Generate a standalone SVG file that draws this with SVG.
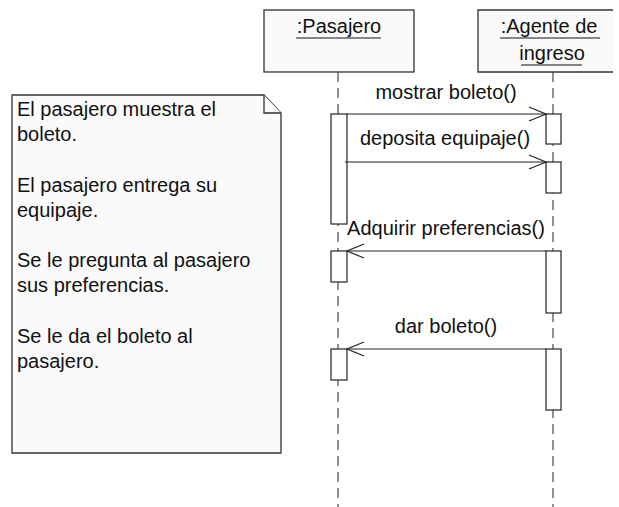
<svg xmlns="http://www.w3.org/2000/svg" width="619" height="507" viewBox="0 0 619 507">
<style>
text{font-family:"Liberation Sans",Arial,sans-serif;font-size:20px;fill:#111}
.box{fill:#fafafa;stroke:#333;stroke-width:1.3}
.act{fill:#ffffff;stroke:#333;stroke-width:1.3}
.life{stroke:#555;stroke-width:1.3;stroke-dasharray:10 6;fill:none}
.msg{stroke:#222;stroke-width:1.2;fill:none}
.ul{stroke:#111;stroke-width:1.2}
</style>
<rect width="619" height="507" fill="#ffffff"/>
<g id="lifelines">
<line class="life" x1="338" y1="72" x2="338" y2="507"/>
<line class="life" x1="553" y1="72" x2="553" y2="507"/>
</g>
<g id="pasajero">
<rect class="box" x="264" y="10" width="150" height="62"/>
<text x="339" y="33" text-anchor="middle">:Pasajero</text>
<line class="ul" x1="296" y1="38" x2="381" y2="38"/>
</g>
<g id="agente">
<path class="box" d="M613 10 H478 V72 H613"/>
<text x="549" y="33" text-anchor="middle">:Agente de</text>
<line class="ul" x1="500" y1="38" x2="600" y2="38"/>
<text x="552" y="60" text-anchor="middle">ingreso</text>
<line class="ul" x1="521" y1="65" x2="582" y2="65"/>
</g>
<g id="activations">
<rect class="act" x="331" y="114" width="16" height="110"/>
<rect class="act" x="331" y="251" width="16" height="31"/>
<rect class="act" x="331" y="349" width="16" height="31"/>
<rect class="act" x="546" y="114" width="15" height="30"/>
<rect class="act" x="546" y="162" width="15" height="31"/>
<rect class="act" x="546" y="251" width="15" height="62"/>
<rect class="act" x="546" y="349" width="15" height="61"/>
</g>
<g id="note">
<path class="box" d="M12 95 H264 L281 113 V453 H12 Z"/>
<path class="box" d="M264 95 V113 H281" fill="none"/>
<text x="17" y="116">El pasajero muestra el</text>
<text x="17" y="141.2">boleto.</text>
<text x="17" y="191.6">El pasajero entrega su</text>
<text x="17" y="216.8">equipaje.</text>
<text x="17" y="267.2">Se le pregunta al pasajero</text>
<text x="17" y="292.4">sus preferencias.</text>
<text x="17" y="342.8">Se le da el boleto al</text>
<text x="17" y="368">pasajero.</text>
</g>
<g id="connectors">
<g id="m1">
<line class="msg" x1="347" y1="114" x2="546" y2="114"/>
<path class="msg" d="M529 107 L546 114 L529 121"/>
<text x="446" y="99" text-anchor="middle">mostrar boleto()</text>
</g>
<g id="m2">
<line class="msg" x1="345" y1="162" x2="546" y2="162"/>
<path class="msg" d="M529 155 L546 162 L529 169"/>
<text x="445" y="145" text-anchor="middle">deposita equipaje()</text>
</g>
<g id="m3">
<line class="msg" x1="546" y1="251" x2="347" y2="251"/>
<path class="msg" d="M364 244 L347 251 L364 258"/>
<text x="446" y="235" text-anchor="middle">Adquirir preferencias()</text>
</g>
<g id="m4">
<line class="msg" x1="546" y1="349" x2="347" y2="349"/>
<path class="msg" d="M364 342 L347 349 L364 356"/>
<text x="446" y="333" text-anchor="middle">dar boleto()</text>
</g>
</g>
</svg>
